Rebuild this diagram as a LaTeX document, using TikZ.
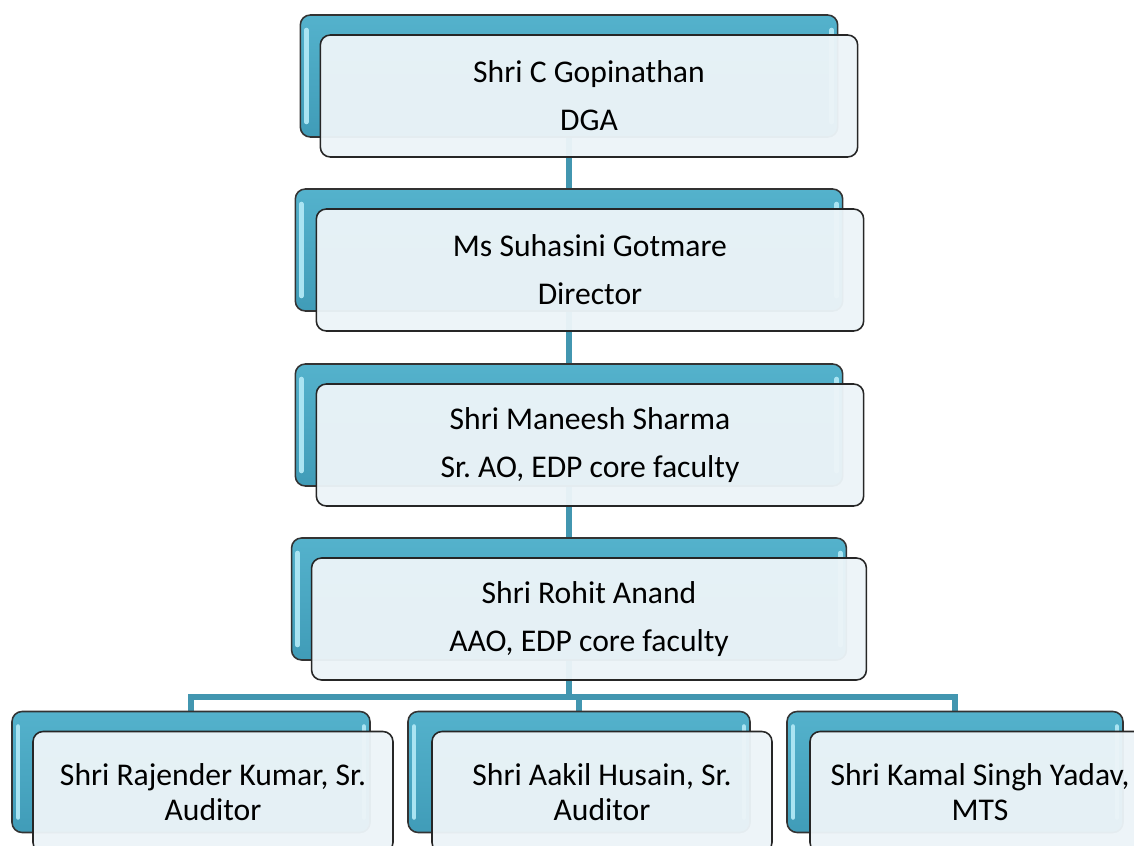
\documentclass[tikz,border=0pt]{standalone}
\usepackage{fontspec}
\setmainfont{Carlito}
\usepackage{tikz}
\usepackage{xcolor}
\usetikzlibrary{positioning, backgrounds}
\definecolor{orgblue}{RGB}{84, 178, 204}
\definecolor{orgbluedark}{RGB}{64, 156, 184}
\definecolor{orgshine}{RGB}{170, 228, 242}
\definecolor{orgpale}{RGB}{236, 244, 248}
\definecolor{orglink}{RGB}{66, 150, 176}
\frenchspacing

\tikzset{
  backbox/.style={rectangle, rounded corners=0.2cm, draw=black!80, line width=0.9pt,
    top color=orgblue, bottom color=orgbluedark, minimum height=2.44cm,
    path picture={
      \draw[orgshine, line width=2.6pt, line cap=round]
        ([xshift=0.12cm,yshift=-0.3cm]path picture bounding box.north west) --
        ([xshift=0.12cm,yshift=0.3cm]path picture bounding box.south west);
      \draw[orgshine, line width=2.6pt, line cap=round]
        ([xshift=-0.12cm,yshift=-0.3cm]path picture bounding box.north east) --
        ([xshift=-0.12cm,yshift=0.3cm]path picture bounding box.south east);}},
  frontbox/.style={rectangle, rounded corners=0.2cm, draw=black!85, line width=0.9pt,
    fill=orgpale, fill opacity=0.96, text opacity=1, minimum height=2.44cm,
    align=center, font=\fontsize{18}{27.2}\selectfont},
  staffbox/.style={frontbox, font=\fontsize{18}{20}\selectfont},
  link/.style={draw=orglink, line width=3pt},
}

\begin{document}
\begin{tikzpicture}[x=0.02cm, y=-0.02cm]
  \useasboundingbox (0,0) rectangle (1134,846);
  \clip (0,0) rectangle (1134,846);

  % chain of command
  \node[backbox, minimum width=10.75cm] (dgaback) at (569,76) {};
  \node[frontbox, minimum width=10.75cm] (dga) at ([xshift=0.4cm,yshift=-0.4cm]dgaback.center) {Shri C Gopinathan\\DGA};

  \node[backbox, minimum width=10.95cm] (dirback) at (569,250) {};
  \node[frontbox, minimum width=10.95cm] (dir) at ([xshift=0.42cm,yshift=-0.4cm]dirback.center) {Ms Suhasini Gotmare\\Director};

  \node[backbox, minimum width=10.95cm] (saoback) at (569,425) {};
  \node[frontbox, minimum width=10.95cm] (sao) at ([xshift=0.42cm,yshift=-0.4cm]saoback.center) {Shri Maneesh Sharma\\Sr. AO, EDP core faculty};

  \node[backbox, minimum width=11.1cm] (aaoback) at (569,599) {};
  \node[frontbox, minimum width=11.1cm] (aao) at ([xshift=0.4cm,yshift=-0.4cm]aaoback.center) {Shri Rohit Anand\\AAO, EDP core faculty};

  % staff row
  \node[backbox, minimum width=7.16cm, minimum height=2.42cm] (rkback) at (191,772) {};
  \node[staffbox, minimum width=7.2cm, minimum height=2.42cm] (rk) at ([xshift=0.44cm,yshift=-0.4cm]rkback.center) {Shri Rajender Kumar, Sr.\\Auditor};

  \node[backbox, minimum width=6.84cm, minimum height=2.42cm] (ahback) at (579,772) {};
  \node[staffbox, minimum width=6.8cm, minimum height=2.42cm] (ah) at ([xshift=0.46cm,yshift=-0.4cm]ahback.center) {Shri Aakil Husain, Sr.\\Auditor};

  \node[backbox, minimum width=6.72cm, minimum height=2.42cm] (ksyback) at (955,772) {};
  \node[staffbox, minimum width=6.8cm, minimum height=2.42cm] (ksy) at ([xshift=0.5cm,yshift=-0.4cm]ksyback.center) {Shri Kamal Singh Yadav,\\MTS};

  \coordinate (fork) at (aaoback.center |- 0,697);

  \begin{pgfonlayer}{background}
    \draw[link] (dgaback.center) -- (dirback.center) -- (saoback.center) -- (aaoback.center) -- (fork);
    \draw[link] (fork) -| (rkback.north);
    \draw[link] (fork) -| (ahback.north);
    \draw[link] (fork) -| (ksyback.north);
  \end{pgfonlayer}
\end{tikzpicture}
\end{document}
